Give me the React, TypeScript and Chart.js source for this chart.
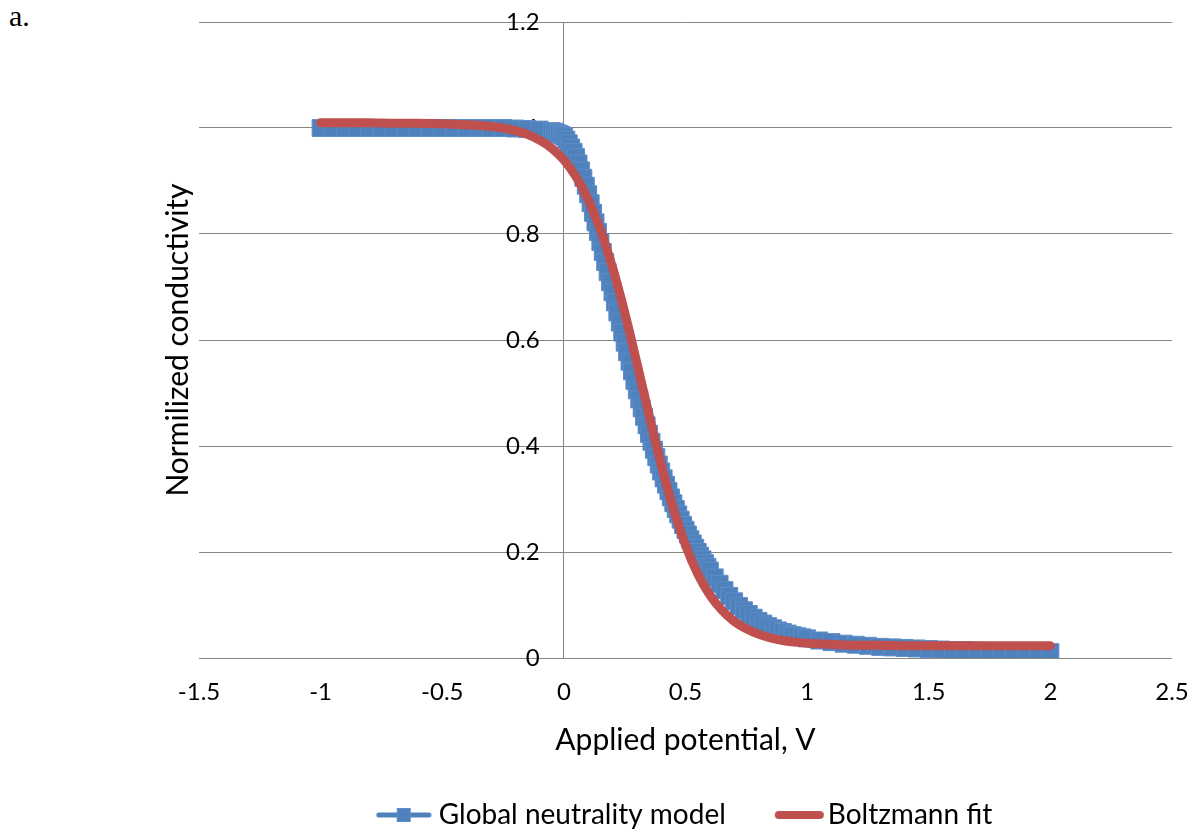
import React, { useEffect, useRef } from 'react';
import { Chart, registerables } from 'chart.js';

Chart.register(...registerables);

// ---- data ----
const blueX = [
  -1, -0.95, -0.9, -0.85, -0.8, -0.75, -0.7, -0.65, -0.6, -0.55, -0.5, -0.45, -0.4, -0.35, -0.3, -0.25, -0.2, -0.15, -0.1, -0.05,
  -0.04, -0.03, -0.02, -0.01, 0,
  0.01, 0.02, 0.03, 0.04, 0.05, 0.06, 0.07, 0.08, 0.09, 0.1,
  0.11, 0.12, 0.13, 0.14, 0.15, 0.16, 0.17, 0.18, 0.19, 0.2,
  0.21, 0.22, 0.23, 0.24, 0.25, 0.26, 0.27, 0.28, 0.29, 0.3,
  0.31, 0.32, 0.33, 0.34, 0.35, 0.36, 0.37, 0.38, 0.39, 0.4,
  0.41, 0.42, 0.43, 0.44, 0.45, 0.46, 0.47, 0.48, 0.49, 0.5,
  0.51, 0.52, 0.53, 0.54, 0.55, 0.56, 0.57, 0.58, 0.59, 0.6,
  0.62, 0.64, 0.66, 0.68, 0.7, 0.72, 0.74, 0.76, 0.78, 0.8,
  0.82, 0.84, 0.86, 0.88, 0.9, 0.92, 0.94, 0.96, 0.98, 1.0,
  1.05, 1.1, 1.15, 1.2, 1.25, 1.3, 1.35, 1.4, 1.45, 1.5,
  1.55, 1.6, 1.65, 1.7, 1.75, 1.8, 1.85, 1.9, 1.95, 2.0,
];
const blueY = [
  1.0, 1.0, 1.0, 1.0, 1.0, 1.0, 1.0, 1.0, 1.0, 1.0, 1.0, 1.0, 1.0, 1.0, 1.0, 1.0, 0.999, 0.998, 0.997, 0.994,
  0.993, 0.991, 0.989, 0.987, 0.984,
  0.978, 0.971, 0.963, 0.955, 0.945, 0.933, 0.92, 0.906, 0.891, 0.875,
  0.858, 0.84, 0.822, 0.804, 0.785, 0.766, 0.747, 0.728, 0.709, 0.69,
  0.671, 0.652, 0.633, 0.614, 0.595, 0.577, 0.559, 0.541, 0.523, 0.505,
  0.488, 0.471, 0.455, 0.439, 0.423, 0.408, 0.393, 0.379, 0.365, 0.352,
  0.339, 0.327, 0.315, 0.303, 0.292, 0.281, 0.271, 0.261, 0.251, 0.242,
  0.233, 0.224, 0.216, 0.208, 0.2, 0.193, 0.186, 0.179, 0.172, 0.165,
  0.152, 0.14, 0.128, 0.117, 0.107, 0.098, 0.09, 0.083, 0.076, 0.07,
  0.065, 0.06, 0.056, 0.052, 0.049, 0.046, 0.043, 0.041, 0.039, 0.037,
  0.033, 0.03, 0.027, 0.025, 0.023, 0.021, 0.02, 0.019, 0.018, 0.017,
  0.016, 0.015, 0.015, 0.014, 0.013, 0.013, 0.012, 0.012, 0.011, 0.011,
];
const redX = [
  -1, -0.9, -0.8, -0.7, -0.6, -0.5, -0.4, -0.3, -0.25, -0.2, -0.15, -0.1, -0.05,
  0, 0.05, 0.1, 0.15, 0.2, 0.25, 0.3, 0.35, 0.4, 0.45, 0.5, 0.55, 0.6, 0.65, 0.7, 0.75, 0.8,
  0.85, 0.9, 0.95, 1.0, 1.1, 1.2, 1.3, 1.4, 1.5, 1.6, 1.8, 2.0,
];
const redY = [
  1.01, 1.01, 1.01, 1.009, 1.009, 1.008, 1.006, 1.003, 1.0, 0.995, 0.988, 0.977, 0.962,
  0.94, 0.908, 0.865, 0.808, 0.737, 0.652, 0.557, 0.459, 0.365, 0.282, 0.213, 0.159, 0.119, 0.09, 0.069, 0.055, 0.045,
  0.038, 0.033, 0.03, 0.028, 0.026, 0.024, 0.024, 0.023, 0.023, 0.023, 0.023, 0.023,
];
const xTicks = [-1.5, -1, -0.5, 0, 0.5, 1, 1.5, 2, 2.5];
const xTickLabels = ['-1.5', '-1', '-0.5', '0', '0.5', '1', '1.5', '2', '2.5'];
const yTicks = [0, 0.2, 0.4, 0.6, 0.8, 1, 1.2];
const yTickLabels = ['0', '0.2', '0.4', '0.6', '0.8', '1', '1.2'];
const seriesNames = ['Global neutrality model', 'Boltzmann fit'];
const xTitle = 'Applied potential, V';
const yTitle = 'Normilized conductivity';
const panelLabel = 'a.';

const BLUE = '#4F81BD';
const BLUE_EDGE = '#5E8DC8';
const RED = '#C0504D';
const GRID = '#868686';
const FONT = 'Lato, "Open Sans", sans-serif';

function makeIcon(kind: 'blue' | 'red'): HTMLCanvasElement {
  const c = document.createElement('canvas');
  c.height = 20;
  if (kind === 'blue') {
    c.width = 56;
    const ctx = c.getContext('2d')!;
    ctx.lineCap = 'round';
    ctx.strokeStyle = BLUE;
    ctx.lineWidth = 5;
    ctx.beginPath();
    ctx.moveTo(3, 10);
    ctx.lineTo(53, 10);
    ctx.stroke();
    ctx.fillStyle = BLUE;
    ctx.fillRect(21, 3, 14, 14);
    ctx.strokeStyle = BLUE_EDGE;
    ctx.lineWidth = 1;
    ctx.strokeRect(21.5, 3.5, 13, 13);
  } else {
    c.width = 64;
    const ctx = c.getContext('2d')!;
    ctx.lineCap = 'round';
    ctx.strokeStyle = RED;
    ctx.lineWidth = 8;
    ctx.beginPath();
    ctx.moveTo(18, 10);
    ctx.lineTo(59, 10);
    ctx.stroke();
  }
  return c;
}

export default function App() {
  const ref = useRef<HTMLCanvasElement>(null);

  useEffect(() => {
    const canvas = ref.current;
    if (!canvas) return;
    const blueIcon = makeIcon('blue');
    const redIcon = makeIcon('red');
    const PADL = 160;
    const LEGEND_SHIFT = 21.5;

    const legendShift = {
      id: 'legendShift',
      afterLayout(chart: any) {
        const lg = chart.legend;
        if (lg) {
          lg.left += LEGEND_SHIFT;
          lg.right += LEGEND_SHIFT;
        }
      },
    };

    const chart = new Chart(canvas, {
      type: 'line',
      data: {
        datasets: [
          {
            label: seriesNames[0],
            data: blueX.map((x, i) => ({ x, y: blueY[i] })),
            borderColor: BLUE,
            borderWidth: 5,
            pointStyle: 'rect',
            pointRadius: 12,
            pointBackgroundColor: BLUE,
            pointBorderColor: BLUE_EDGE,
            pointBorderWidth: 1,
            tension: 0,
            order: 1,
          },
          {
            label: seriesNames[1],
            data: redX.map((x, i) => ({ x, y: redY[i] })),
            borderColor: RED,
            borderWidth: 9,
            pointRadius: 0,
            cubicInterpolationMode: 'monotone',
            borderCapStyle: 'round',
            borderJoinStyle: 'round',
            order: 0,
          },
        ],
      },
      plugins: [legendShift],
      options: {
        responsive: false,
        animation: false,
        events: [],
        layout: { padding: { left: PADL, right: 26, top: 22, bottom: -7 } },
        scales: {
          x: {
            type: 'linear',
            position: 'bottom',
            min: -1.5,
            max: 2.5,
            afterBuildTicks: (s: any) => {
              s.ticks = xTicks.map((v) => ({ value: v }));
            },
            afterFit: (s: any) => {
              s.height = 97;
            },
            grid: {
              display: true,
              drawOnChartArea: false,
              drawTicks: true,
              tickLength: 20,
              color: 'rgba(0,0,0,0)',
            },
            border: { display: false },
            ticks: {
              autoSkip: false,
              maxRotation: 0,
              padding: 0,
              color: '#000',
              font: { family: FONT, size: 24 },
              callback: (_v: any, i: number) => xTickLabels[i],
            },
            title: {
              display: true,
              text: xTitle,
              color: '#000',
              font: { family: FONT, size: 30, lineHeight: '30px' },
              padding: 0,
            },
          },
          y: {
            type: 'linear',
            position: { x: 0 },
            min: 0,
            max: 1.2,
            afterBuildTicks: (s: any) => {
              s.ticks = yTicks.map((v) => ({ value: v }));
            },
            grid: { color: GRID, lineWidth: 1, drawTicks: false },
            border: { display: true, color: GRID, width: 1 },
            ticks: { display: false },
          },
          yl: {
            type: 'linear',
            axis: 'y',
            position: { x: -0.1 },
            min: 0,
            max: 1.2,
            afterBuildTicks: (s: any) => {
              s.ticks = yTicks.map((v) => ({ value: v }));
            },
            grid: { display: false, drawTicks: false },
            border: { display: false },
            ticks: {
              autoSkip: false,
              padding: 0,
              color: '#000',
              font: { family: FONT, size: 24 },
              callback: (_v: any, i: number) => yTickLabels[i],
            },
          },
          yt: {
            type: 'linear',
            axis: 'y',
            position: 'left',
            min: 0,
            max: 1.2,
            afterFit: (s: any) => {
              s.width = 199 - PADL;
            },
            grid: { display: false, drawTicks: false },
            border: { display: false },
            ticks: { display: false },
            title: {
              display: true,
              text: yTitle,
              color: '#000',
              font: { family: FONT, size: 30, lineHeight: '10px' },
              padding: { top: 13, bottom: 0 },
            },
          },
        } as any,
        plugins: {
          tooltip: { enabled: false },
          legend: {
            display: true,
            position: 'bottom',
            align: 'center',
            labels: {
              usePointStyle: true,
              pointStyleWidth: 42,
              padding: 46,
              color: '#000',
              font: { family: FONT, size: 28 },
              generateLabels: () => [
                {
                  text: seriesNames[0],
                  pointStyle: blueIcon as any,
                  fillStyle: BLUE,
                  strokeStyle: BLUE,
                  lineWidth: 0,
                  hidden: false,
                  datasetIndex: 0,
                },
                {
                  text: seriesNames[1],
                  pointStyle: redIcon as any,
                  fillStyle: RED,
                  strokeStyle: RED,
                  lineWidth: 0,
                  hidden: false,
                  datasetIndex: 1,
                },
              ],
            },
          },
        },
      } as any,
    });
    return () => chart.destroy();
  }, []);

  return (
    <div style={{ position: 'absolute', left: 0, top: 0, width: 1198, height: 832, background: '#fff' }}>
      <div
        style={{
          position: 'absolute',
          left: 9,
          top: 1,
          fontFamily: '"Liberation Serif", "Times New Roman", serif',
          fontSize: 30,
          lineHeight: '30px',
          color: '#000',
        }}
      >
        {panelLabel}
      </div>
      <canvas ref={ref} width={1198} height={832} style={{ position: 'absolute', left: 0, top: 0, width: 1198, height: 832 }} />
    </div>
  );
}
